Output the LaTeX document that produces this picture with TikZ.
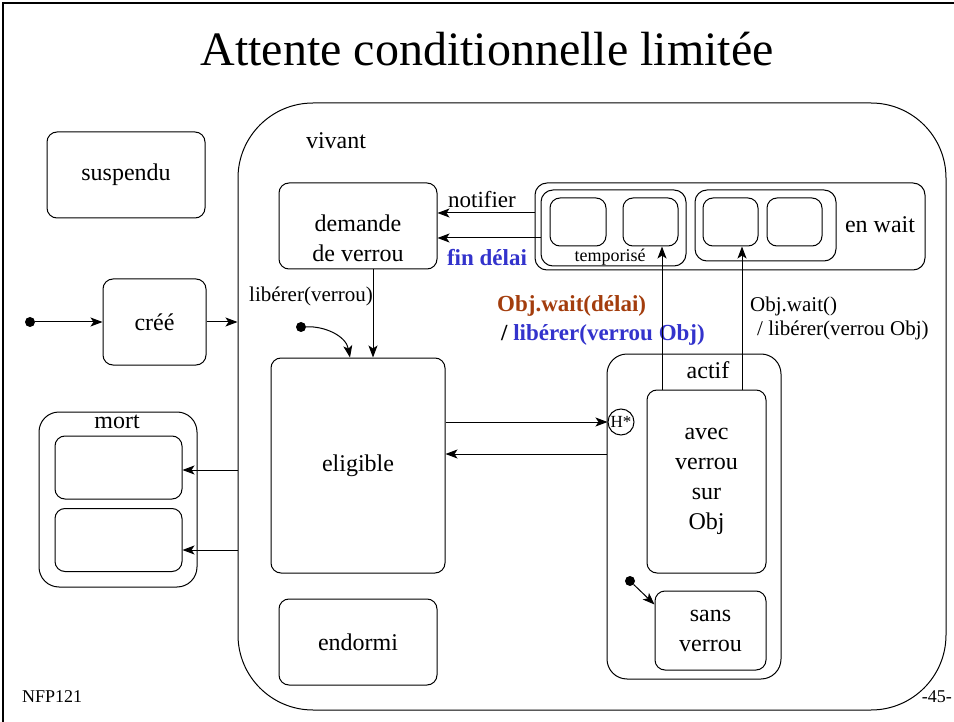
\documentclass[tikz,border=0pt]{standalone}
\usepackage{fontspec}
\setmainfont{Liberation Serif}
\usetikzlibrary{arrows.meta}

\definecolor{brun}{RGB}{163,61,13}
\definecolor{bleu}{RGB}{51,51,204}

\tikzset{
  etat/.style={draw,rounded corners=10pt,line width=1pt,inner sep=0pt,align=center,
    font=\fontsize{24}{30}\selectfont},
  boite/.style={draw,rounded corners=#1,line width=1pt,inner sep=0pt},
  fl/.style={line width=1pt,-{Stealth[length=12pt,width=9pt,inset=3pt]}},
  depart/.style={circle,fill,inner sep=0pt,minimum size=10pt},
  lbl/.style={inner sep=0pt,font=\fontsize{21}{25}\selectfont},
  gras/.style={inner sep=0pt,font=\fontsize{23}{27}\selectfont\bfseries},
  txt/.style={inner sep=0pt,align=center,font=\fontsize{24}{30}\selectfont},
}

\begin{document}
\begin{tikzpicture}[x=1pt,y=-1pt]
  \useasboundingbox (0,0) rectangle (954,722);
  \draw[line width=2.5pt] (3,722) -- (3,3) -- (954,3);   % cadre
  \node[anchor=base,inner sep=0pt,font=\fontsize{48}{56}\selectfont] (titre) at (487,66) {Attente conditionnelle limitée};

  % vivant (etat composite)
  \node[boite=75pt,minimum width=708pt,minimum height=607pt] (vivant) at (592,406.5) {};
  \node[txt] (vivantlbl) at (336,141) {vivant};

  % etats hors de vivant
  \node[etat,minimum width=158pt,minimum height=86pt] (suspendu) at (126,175) {suspendu};
  \node[etat,minimum width=103pt,minimum height=86pt] (cree) at (154.5,322) {créé};
  \node[depart] (init1) at (30,322) {};
  \draw[fl] (init1) -- (cree);
  \draw[fl] (cree.east) -- (cree.east -| vivant.west);

  % mort
  \node[boite=20pt,minimum width=158pt,minimum height=175pt] (mort) at (118,499.5) {};
  \node[txt] (mortlbl) at (117,422) {mort};
  \node[boite=10pt,minimum width=127pt,minimum height=63pt] (mort1) at (118.5,467.5) {};
  \node[boite=10pt,minimum width=127pt,minimum height=63pt] (mort2) at (118.5,540) {};
  \coordinate (m1) at (0,470);
  \coordinate (m2) at (0,550);
  \draw[fl] (vivant.west |- m1) -- (mort1.east |- m1);
  \draw[fl] (vivant.west |- m2) -- (mort2.east |- m2);

  % demande de verrou
  \node[etat,minimum width=158pt,minimum height=86pt] (demande) at (358,226) {};
  \node[txt] (demandetxt) at (358,238) {demande\\de verrou};

  % en wait
  \node[boite=12pt,minimum width=390pt,minimum height=87pt] (enwait) at (730,226.5) {};
  \node[txt] (enwaitlbl) at (880,225) {en wait};
  \node[boite=12pt,minimum width=145pt,minimum height=76pt] (tempo) at (613.5,228) {};
  \node[inner sep=0pt,font=\fontsize{18}{20}\selectfont] (tempolbl) at (610,257) {temporisé};
  \node[boite=10pt,minimum width=56pt,minimum height=48pt] (t1) at (578,222) {};
  \node[boite=10pt,minimum width=55pt,minimum height=48pt] (t2) at (650.5,222) {};
  \node[boite=12pt,minimum width=141pt,minimum height=71pt] (grp) at (765.5,225.5) {};
  \node[boite=10pt,minimum width=55pt,minimum height=48pt] (w1) at (730.5,222) {};
  \node[boite=10pt,minimum width=55pt,minimum height=48pt] (w2) at (794.5,222) {};

  \coordinate (n1) at (0,213);
  \coordinate (n2) at (0,238);
  \draw[fl] (enwait.west |- n1) -- (demande.east |- n1);
  \draw[fl] (tempo.west |- n2) -- (demande.east |- n2);
  \node[lbl,font=\fontsize{23}{27}\selectfont] (notifier) at (482,200) {notifier};
  \node[gras,text=bleu] (findelai) at (487,258) {fin délai};

  % eligible
  \node[etat,minimum width=174pt,minimum height=215pt] (eligible) at (358,465.5) {eligible};
  \coordinate (d1) at (373,0);
  \draw[fl] (demande.south -| d1) -- (eligible.north -| d1);
  \node[lbl] (liberer) at (311,296) {libérer(verrou)};
  \node[depart] (init2) at (301,327) {};
  \coordinate (c2) at (350,0);
  \draw[fl] (init2) .. controls (325,326) and (346,336) .. (eligible.north -| c2);

  % endormi
  \node[etat,minimum width=158pt,minimum height=86pt] (endormi) at (358,642) {endormi};

  % actif
  \node[boite=20pt,minimum width=174pt,minimum height=325pt] (actif) at (694,516.5) {};
  \node[txt] (actiflbl) at (708,370) {actif};
  \node[etat,minimum width=119pt,minimum height=183pt] (avec) at (706.5,481.5) {avec\\verrou\\sur\\Obj};
  \node[etat,minimum width=111pt,minimum height=79pt] (sans) at (710.5,630.5) {sans\\verrou};
  \node[depart] (init3) at (630,581) {};
  \draw[fl] (init3) -- ([yshift=26pt]sans.west);
  \node[draw,circle,line width=1pt,minimum size=26pt,inner sep=0pt,font=\fontsize{17}{20}\selectfont] (H) at (621,422) {H*};

  \draw[fl] (eligible.east |- H) -- (H);
  \coordinate (retour) at (0,454);
  \draw[fl] (actif.west |- retour) -- (eligible.east |- retour);

  % Obj.wait
  \node[gras,text=brun,anchor=west] (wait1) at (497,306) {Obj.wait(délai)};
  \node[gras,anchor=west] (lib1) at (501,335) {/ \textcolor{bleu}{libérer(verrou Obj)}};
  \node[lbl,anchor=west] (wait2) at (750,306) {Obj.wait()};
  \node[lbl,anchor=west] (lib2) at (757,330) {/ libérer(verrou Obj)};
  \coordinate (a1) at (662,0);
  \coordinate (a2) at (742,0);
  \draw[fl] (avec.north -| a1) -- (t2.south -| a1);
  \draw[fl] (avec.north -| a2) -- (w1.south -| a2);

  % pied de page
  \node[inner sep=0pt,anchor=west,font=\fontsize{18}{20}\selectfont] (nfp) at (22,697) {NFP121};
  \node[inner sep=0pt,anchor=east,font=\fontsize{18}{20}\selectfont] (page) at (952,697) {-45-};
\end{tikzpicture}
\end{document}
